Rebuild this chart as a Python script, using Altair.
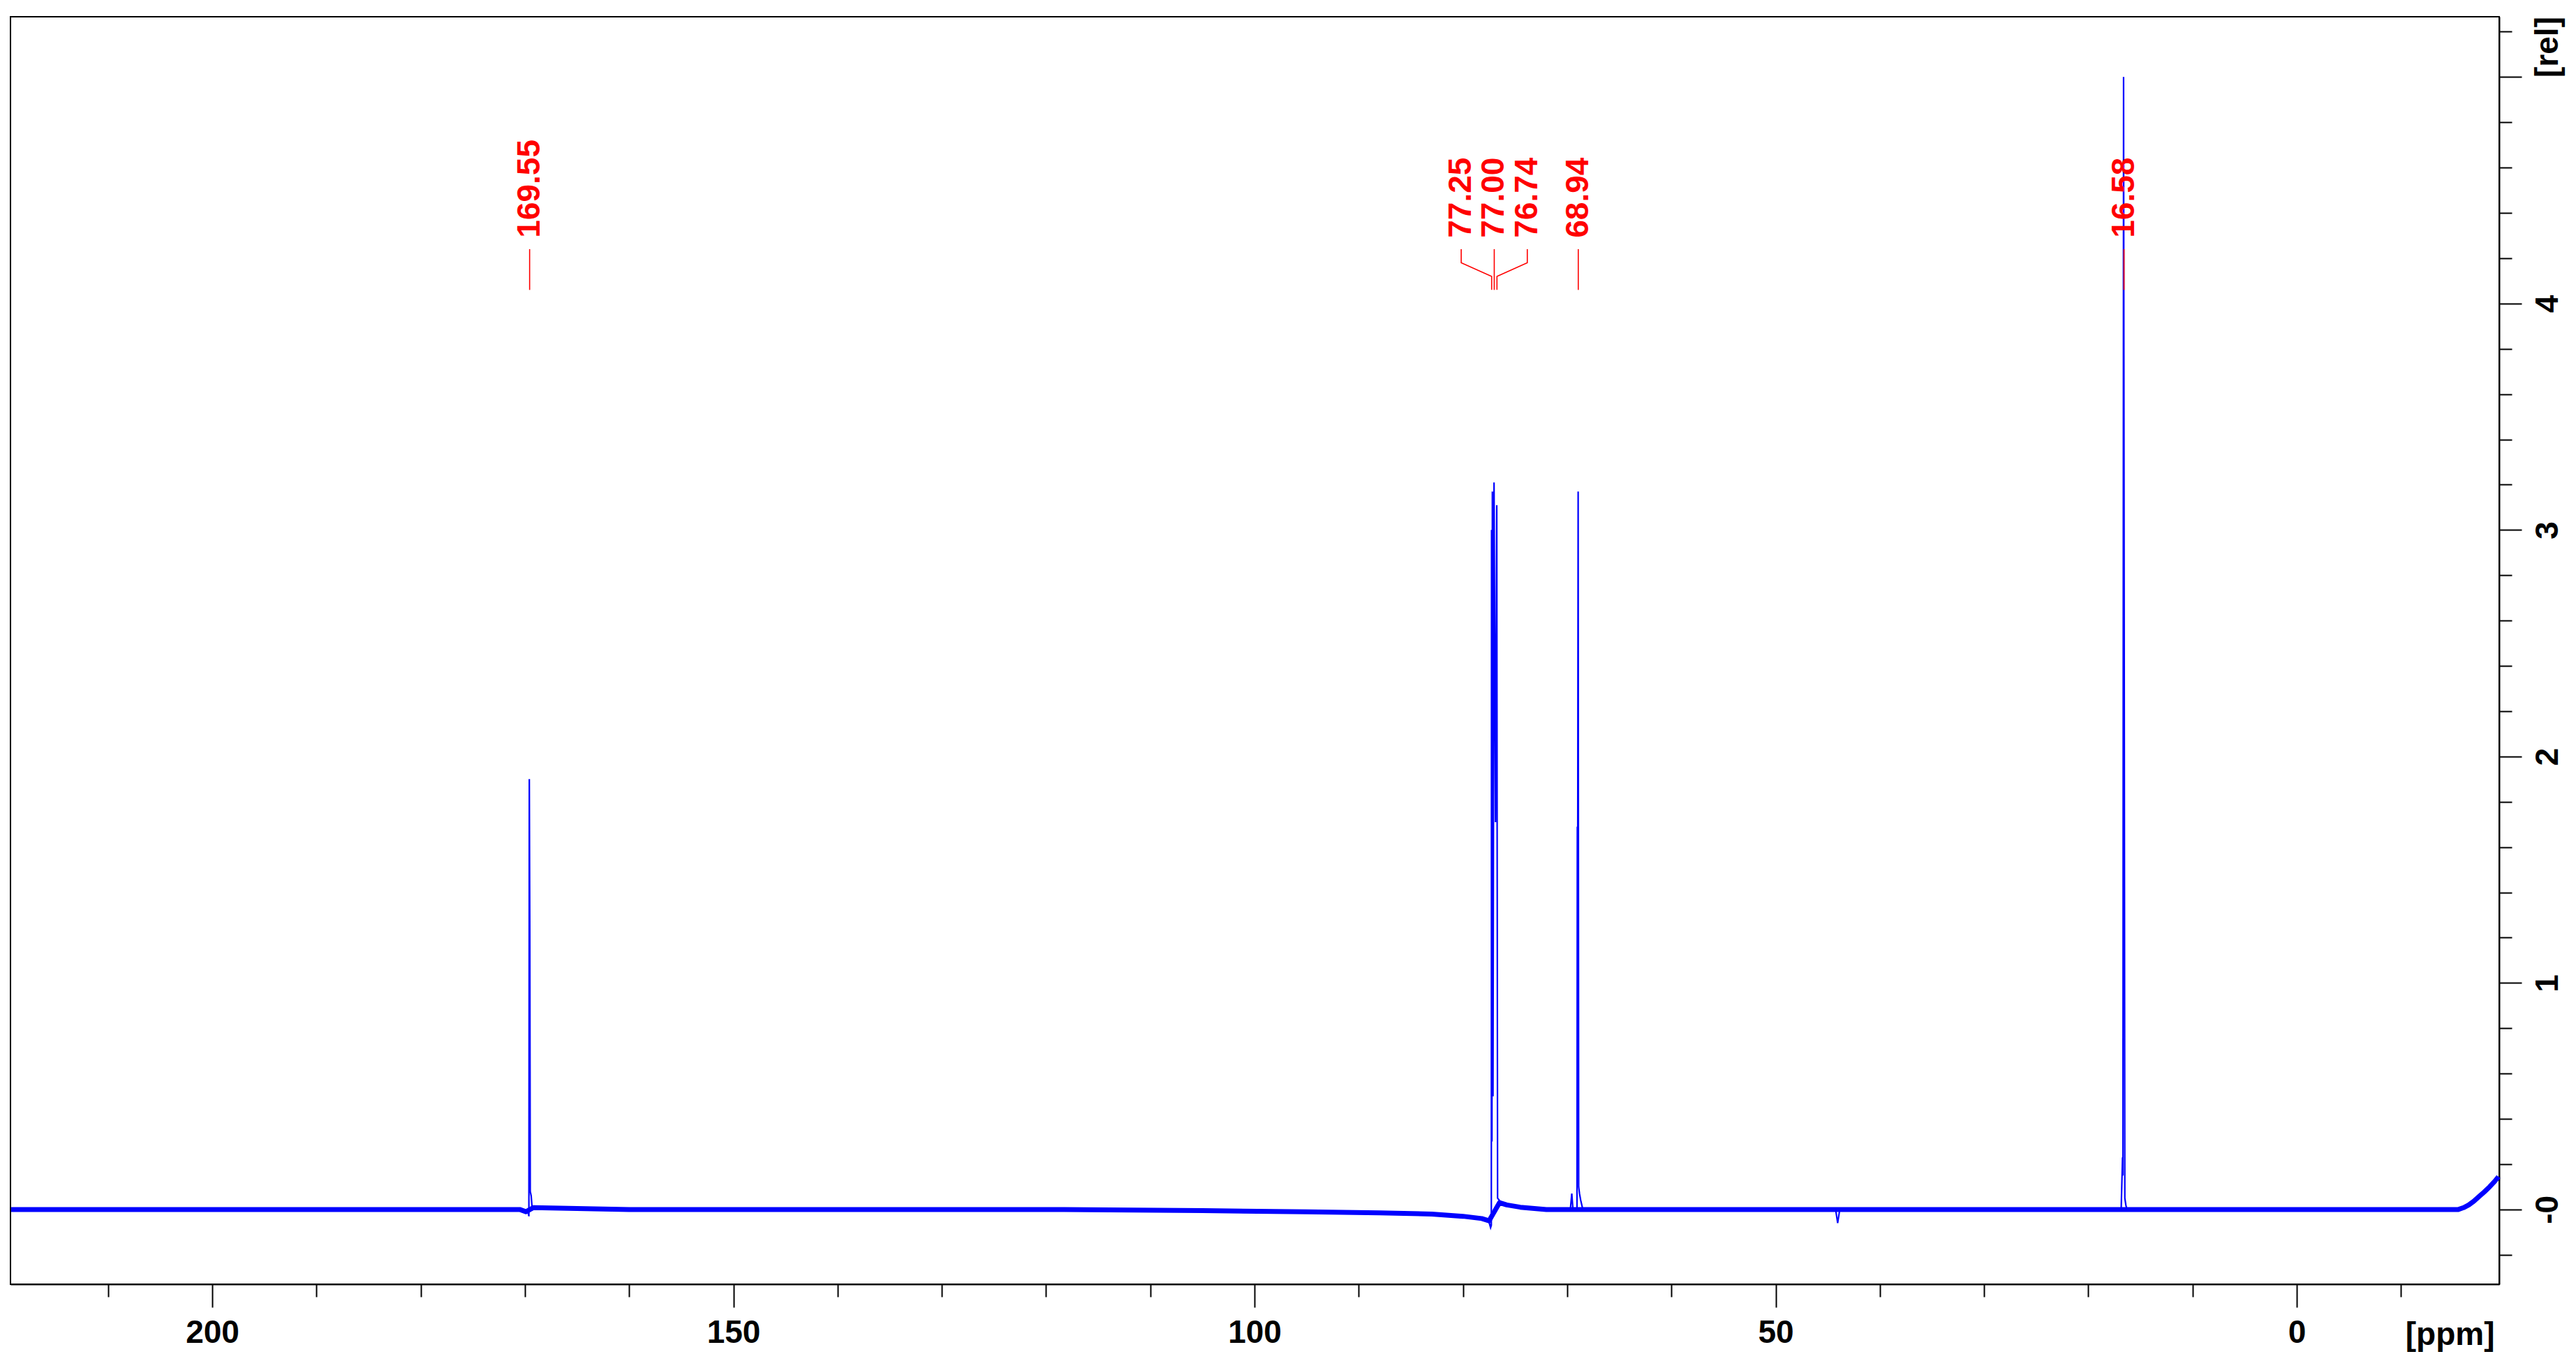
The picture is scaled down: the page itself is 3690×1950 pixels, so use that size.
import altair as alt
import pandas as pd

# ---------------- data ----------------
# baseline (centre of the noise band): chemical shift [ppm] / intensity [rel]
base_ppm = [219.3, 205, 190, 175, 170.5, 169.9, 169.2, 160, 140, 120, 105, 95,
            88, 83, 80, 78.2, 77.5, 76.5, 75.8, 74.5, 72, 70, 66, 60, 50, 40,
            30, 22, 17, 15, 8, 0, -8, -14, -15.5, -16.0, -16.5, -17.0, -17.5,
            -18.0, -18.5, -19.0, -19.35]
base_val = [0.0, 0.0, 0.0, 0.0, 0.0, -0.01, 0.008, 0.0, 0.0, 0.0, -0.005, -0.01,
            -0.015, -0.02, -0.03, -0.04, -0.05, 0.03, 0.02, 0.01, 0.0, 0.0, 0.0, 0.0, 0.0, 0.0,
            0.0, 0.0, 0.0, 0.0, 0.0, 0.0, 0.0, 0.0, 0.0, 0.008, 0.02, 0.037, 0.058,
            0.078, 0.10, 0.125, 0.145]

# peak traces
pk1_ppm = [169.75, 169.62, 169.58, 169.53, 169.49, 169.40, 169.30]
pk1_val = [0.0, -0.03, 1.90, 1.21, 0.08, 0.06, 0.0]

pk2_ppm = [77.60, 77.35, 77.28, 77.26, 77.22, 77.18, 77.12, 77.02, 76.88, 76.76,
           76.68, 76.50, 76.20]
pk2_val = [-0.04, -0.08, -0.07, 3.00, 0.30, 3.17, 0.50, 3.21, 1.71, 3.11,
           0.05, 0.04, 0.02]

pk3_ppm = [69.70, 69.56, 69.45, 69.06, 69.03, 69.00, 68.95, 68.90, 68.82, 68.70, 68.50]
pk3_val = [0.0, 0.07, 0.0, 0.0, 1.69, 1.30, 3.17, 0.10, 0.07, 0.04, 0.0]

pk4_ppm = [16.85, 16.72, 16.68, 16.62, 16.56, 16.50, 16.40, 16.30]
pk4_val = [0.0, 0.23, 0.15, 5.00, 2.62, 0.05, 0.02, 0.0]

pk5_ppm = [44.25, 44.05, 43.85]
pk5_val = [0.0, -0.06, 0.0]

# peak labels
label_text = ["169.55", "77.25", "77.00", "76.74", "68.94", "16.58"]
label_peak = [169.55, 77.25, 77.00, 76.74, 68.94, 16.58]
label_pos = [169.55, 80.17, 77.00, 73.83, 68.94, 16.58]
leader_levels = [4.24, 4.18, 4.12, 4.06]
label_level = 4.29

# axes
x_ticks = [210, 200, 190, 180, 170, 160, 150, 140, 130, 120, 110, 100, 90, 80,
           70, 60, 50, 40, 30, 20, 10, 0, -10]
y_ticks = [-0.2, 0, 0.2, 0.4, 0.6, 0.8, 1, 1.2, 1.4, 1.6, 1.8, 2, 2.2, 2.4, 2.6,
           2.8, 3, 3.2, 3.4, 3.6, 3.8, 4, 4.2, 4.4, 4.6, 4.8, 5, 5.2]
x_domain = [219.36, -19.42]
y_domain = [-0.33, 5.266]

# ---------------- tables ----------------
base_df = pd.DataFrame({"ppm": base_ppm, "val": base_val})
peak_rows = []
for gid, (pp, vv) in enumerate([(pk1_ppm, pk1_val), (pk2_ppm, pk2_val),
                                 (pk3_ppm, pk3_val), (pk4_ppm, pk4_val),
                                 (pk5_ppm, pk5_val)]):
    for k, (p, v) in enumerate(zip(pp, vv)):
        peak_rows.append({"g": gid, "k": k, "ppm": p, "val": v})
peak_df = pd.DataFrame(peak_rows)

lead_rows = []
for t, pk, pos in zip(label_text, label_peak, label_pos):
    pts = [(pos, leader_levels[0]), (pos, leader_levels[1]),
           (pk, leader_levels[2]), (pk, leader_levels[3])]
    for k, (p, v) in enumerate(pts):
        lead_rows.append({"label": t, "k": k, "ppm": p, "val": v})
lead_df = pd.DataFrame(lead_rows)
lab_df = pd.DataFrame({"label": label_text, "ppm": label_pos,
                       "val": [label_level] * len(label_text)})

FONT = "Liberation Sans, Arial, sans-serif"
FS = 46
BLUE = "#0000ff"
RED = "#ff0000"

xs = alt.Scale(domain=x_domain, nice=False, zero=False)
ys = alt.Scale(domain=y_domain, nice=False, zero=False)

x_axis = alt.Axis(
    values=x_ticks, orient="bottom", grid=False,
    tickSize={"condition": {"test": "datum.value % 50 === 0", "value": 33}, "value": 18},
    tickWidth=2, tickColor="black", domainColor="black", domainWidth=2,
    labelExpr="datum.value % 50 === 0 ? datum.label : ''",
    labelFont=FONT, labelFontSize=FS, labelFontWeight="bold", labelColor="black",
    labelBaseline="top", labelAlign="center", labelPadding=14,
    labelFlush=False, labelOverlap=False,
    title="[ppm]", titleFont=FONT, titleFontSize=FS, titleFontWeight="bold",
    titleColor="black", titleAlign="right", titleBaseline="alphabetic",
    titleX=3558, titleY=86, titleAngle=0,
)
y_axis = alt.Axis(
    values=y_ticks, orient="right", grid=False,
    tickSize={"condition": {"test": "abs(datum.value - round(datum.value)) < 0.01", "value": 32},
              "value": 18},
    tickWidth=2, tickColor="black", domainColor="black", domainWidth=2,
    labelExpr="datum.value == 0 ? '-0' : ((abs(datum.value - round(datum.value)) < 0.01 && datum.value > 0.5 && datum.value < 4.5) ? format(datum.value, 'd') : '')",
    labelFont=FONT, labelFontSize=FS, labelFontWeight="bold", labelColor="black",
    labelAngle=270, labelAlign="center", labelBaseline="top", labelPadding=15,
    labelFlush=False, labelOverlap=False,
    title="[rel]", titleFont=FONT, titleFontSize=FS, titleFontWeight="bold",
    titleColor="black", titleAngle=270, titleAlign="center", titleBaseline="top",
    titleX=47, titleY=43,
)

base = alt.Chart(base_df).mark_line(color=BLUE, strokeWidth=7, strokeJoin="round").encode(
    x=alt.X("ppm:Q", scale=xs, axis=x_axis),
    y=alt.Y("val:Q", scale=ys, axis=y_axis),
    order="ppm:Q",
)
peaks = alt.Chart(peak_df).mark_line(color=BLUE, strokeWidth=2.2).encode(
    x=alt.X("ppm:Q", scale=xs),
    y=alt.Y("val:Q", scale=ys),
    detail="g:N",
    order="k:Q",
)
leaders = alt.Chart(lead_df).mark_line(color=RED, strokeWidth=1.6).encode(
    x=alt.X("ppm:Q", scale=xs),
    y=alt.Y("val:Q", scale=ys),
    detail="label:N",
    order="k:Q",
)
labels = alt.Chart(lab_df).mark_text(
    color=RED, angle=270, align="left", baseline="middle",
    font=FONT, fontSize=FS, fontWeight="bold",
).encode(
    x=alt.X("ppm:Q", scale=xs),
    y=alt.Y("val:Q", scale=ys),
    text="label:N",
)

chart = alt.layer(base, peaks, leaders, labels).properties(
    width=3565, height=1816,
    autosize=alt.AutoSizeParams(type="none"),
    padding={"left": 7, "top": 16, "right": 95, "bottom": 98},
    background="white",
).configure_view(stroke="black", strokeWidth=2)

chart.save("out.html", embed_options={"renderer": "svg", "actions": False})
